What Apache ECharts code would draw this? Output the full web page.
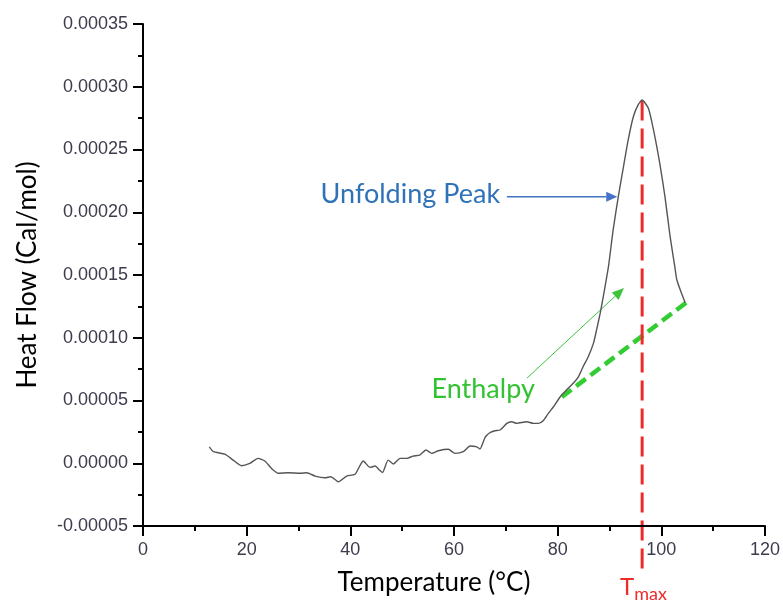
<!DOCTYPE html>
<html>
<head>
<meta charset="utf-8">
<script src="https://cdn.jsdelivr.net/npm/echarts@6/dist/echarts.min.js"></script>
<style>
html, body { margin: 0; padding: 0; background: #fff; }
#chart { width: 783px; height: 603px; }
</style>
</head>
<body>
<div id="chart"></div>
<script>
// DSC trace
var temps = [12.8, 13.6, 15.8, 17.4, 19.0, 20.6, 22.2, 23.5, 24.8, 26.1, 28.0, 30.3, 31.6, 33.2, 35.1, 36.2,
  37.7, 39.3, 40.9, 42.5, 43.8, 44.8, 45.6, 46.2, 47.3, 48.3, 49.6, 50.9, 52.1, 53.4, 54.6, 55.7, 57.0, 58.9,
  60.2, 61.8, 63.1, 64.4, 65.0, 66.0, 66.9, 67.9, 68.9, 70.2, 71.1, 72.1, 74.0, 75.3, 76.3, 77.2, 78.2, 79.2,
  80.5, 81.7, 83.0, 84.0, 84.9, 85.9, 86.9, 87.5, 88.2, 88.8, 89.8, 90.7, 91.7, 92.7, 93.6, 94.6, 95.5, 96.3,
  97.5, 98.5, 99.7, 100.7, 101.7, 102.6, 103.0, 103.9, 104.6];
var heatFlow = [1.31e-5, 0.92e-5, 0.73e-5, 0.25e-5, -0.20e-5, -0.01e-5, 0.39e-5, 0.18e-5, -0.41e-5, -0.80e-5,
  -0.76e-5, -0.80e-5, -0.76e-5, -1.02e-5, -1.16e-5, -1.08e-5, -1.47e-5, -1.02e-5, -0.88e-5, 0.18e-5, -0.33e-5,
  -0.22e-5, -0.54e-5, -0.74e-5, 0.25e-5, -0.06e-5, 0.39e-5, 0.39e-5, 0.57e-5, 0.65e-5, 1.05e-5, 0.79e-5,
  1.00e-5, 1.11e-5, 0.79e-5, 0.92e-5, 1.37e-5, 1.31e-5, 1.13e-5, 2.06e-5, 2.43e-5, 2.59e-5, 2.65e-5, 3.18e-5,
  3.31e-5, 3.18e-5, 3.31e-5, 3.18e-5, 3.18e-5, 3.39e-5, 3.98e-5, 4.50e-5, 5.30e-5, 5.83e-5, 6.37e-5, 6.89e-5,
  7.69e-5, 8.49e-5, 9.55e-5, 10.61e-5, 11.94e-5, 13.27e-5, 15.66e-5, 18.58e-5, 21.24e-5, 23.63e-5, 25.75e-5,
  27.61e-5, 28.54e-5, 28.94e-5, 28.28e-5, 26.55e-5, 23.90e-5, 21.24e-5, 18.05e-5, 15.66e-5, 14.60e-5,
  13.54e-5, 12.79e-5];

var xTicks = [0, 20, 40, 60, 80, 100, 120];
var yTicks = [-0.00005, 0, 0.00005, 0.0001, 0.00015, 0.0002, 0.00025, 0.0003, 0.00035];

// annotations, in data units
var tmaxLine = [[96.3, 0.000289], [96.3, -0.000089]];
var tmaxLabel = [96.3, -0.0000987];
var baseLine = [[80.8, 0.0000528], [104.8, 0.000128]];
var enthalpyArrow = [[74.1, 0.0000679], [92.8, 0.0001396]];
var enthalpyLabel = [75.6, 0.0000591];
var peakArrow = [[70.2, 0.0002124], [91.5, 0.0002124]];
var peakLabel = [68.9, 0.0002145];

var TITLE_FONT = 'Lato';
var TICK_FONT = 'Liberation Sans';

var chart = echarts.init(document.getElementById('chart'));

var points = [];
for (var i = 0; i < temps.length; i++) {
  points.push([temps[i], heatFlow[i]]);
}

var option = {
  animation: false,
  backgroundColor: '#fff',
  grid: { left: 143, right: 18, top: 24, bottom: 77 },
  xAxis: {
    type: 'value',
    min: xTicks[0],
    max: xTicks[xTicks.length - 1],
    interval: xTicks[1] - xTicks[0],
    name: 'Temperature (°C)',
    nameLocation: 'middle',
    nameGap: 44,
    nameTextStyle: { fontFamily: TITLE_FONT, fontSize: 26, color: '#000', padding: [0, 40, 0, 0] },
    axisLine: { onZero: false, lineStyle: { color: '#000', width: 2 } },
    axisTick: { length: 10, lineStyle: { color: '#000', width: 2 } },
    minorTick: { show: true, splitNumber: 2, length: 5, lineStyle: { color: '#000', width: 2 } },
    splitLine: { show: false },
    axisLabel: { fontFamily: TICK_FONT, fontSize: 18, color: '#3c3c4c', margin: 15 }
  },
  yAxis: {
    type: 'value',
    min: yTicks[0],
    max: yTicks[yTicks.length - 1],
    interval: 0.00005,
    name: 'Heat Flow (Cal/mol)',
    nameLocation: 'middle',
    nameGap: 102,
    nameTextStyle: { fontFamily: TITLE_FONT, fontSize: 26, color: '#000' },
    axisLine: { show: true, lineStyle: { color: '#000', width: 2 } },
    axisTick: { show: true, length: 10, lineStyle: { color: '#000', width: 2 } },
    minorTick: { show: true, splitNumber: 2, length: 5, lineStyle: { color: '#000', width: 2 } },
    splitLine: { show: false },
    axisLabel: {
      fontFamily: TICK_FONT, fontSize: 18, color: '#3c3c4c', margin: 15,
      formatter: function (v) {
        if (Math.abs(v) < 1e-12) v = 0;
        return v.toFixed(5);
      }
    }
  },
  series: [{
    type: 'line',
    data: points,
    showSymbol: false,
    smooth: 0.2,
    lineStyle: { color: '#555', width: 1.4 }
  }]
};
chart.setOption(option);

function px(p) {
  return chart.convertToPixel({ gridIndex: 0 }, p);
}

// line with a filled head at its end
function arrow(seg, color, width, len, half) {
  var a = px(seg[0]), b = px(seg[1]);
  var dx = b[0] - a[0], dy = b[1] - a[1];
  var d = Math.sqrt(dx * dx + dy * dy);
  var ux = dx / d, uy = dy / d;
  var base = [b[0] - ux * len, b[1] - uy * len];
  return [
    { type: 'line', shape: { x1: a[0], y1: a[1], x2: base[0], y2: base[1] },
      style: { stroke: color, lineWidth: width } },
    { type: 'polygon',
      shape: { points: [b, [base[0] - uy * half, base[1] + ux * half], [base[0] + uy * half, base[1] - ux * half]] },
      style: { fill: color } }
  ];
}

function dashed(seg, color, width, dash) {
  var a = px(seg[0]), b = px(seg[1]);
  return { type: 'line', shape: { x1: a[0], y1: a[1], x2: b[0], y2: b[1] },
    style: { stroke: color, lineWidth: width, lineDash: dash } };
}

function label(p, text, color, size, align) {
  var q = px(p);
  return { type: 'text', x: q[0], y: q[1],
    style: { text: text, fill: color, fontFamily: TITLE_FONT, fontSize: size, align: align, verticalAlign: 'middle' } };
}

var g = [];
g.push(dashed(baseLine, '#33cc33', 4.5, [12, 6]));
g.push(dashed(tmaxLine, '#ee2a2a', 3, [20, 8]));
g = g.concat(arrow(enthalpyArrow, '#3cc43c', 1, 12, 5));
g = g.concat(arrow(peakArrow, '#4472c4', 1.5, 11, 5));
g.push(label(peakLabel, 'Unfolding Peak', '#2f72b8', 27, 'right'));
g.push(label(enthalpyLabel, 'Enthalpy', '#33c233', 27, 'right'));

var tq = px(tmaxLabel);
g.push({ type: 'text', x: tq[0] - 8, y: tq[1],
  style: { text: 'T', fill: '#ee2a2a', fontFamily: TITLE_FONT, fontSize: 24, align: 'right', verticalAlign: 'middle' } });
g.push({ type: 'text', x: tq[0] - 8, y: tq[1] + 16,
  style: { text: 'max', fill: '#ee2a2a', fontFamily: TITLE_FONT, fontSize: 18, align: 'left', verticalAlign: 'bottom' } });

chart.setOption({ graphic: g });
</script>
</body>
</html>
